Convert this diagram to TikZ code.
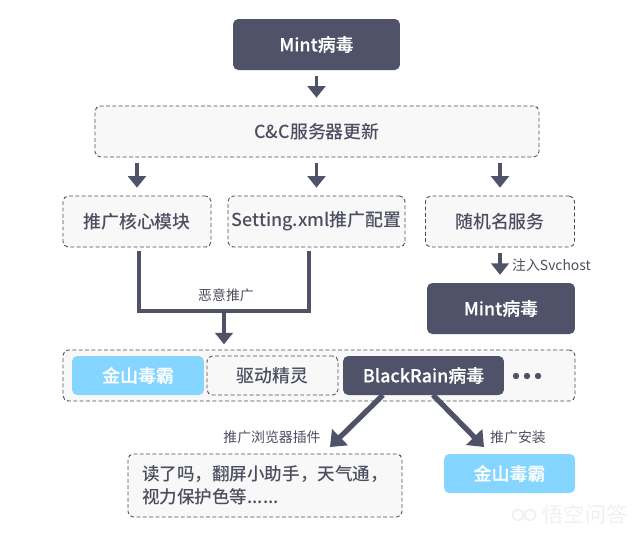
\documentclass[tikz,border=0pt]{standalone}
\usepackage{fontspec}
\usetikzlibrary{arrows.meta}
\setmainfont{Noto Sans CJK SC}
\newfontfamily\mediumfont{Noto Sans CJK SC Medium}
\newfontfamily\heavyfont[FakeBold=0.4]{Noto Sans CJK SC Medium}
\definecolor{darkbox}{HTML}{50526A}
\definecolor{skybox}{HTML}{84D5FF}
\definecolor{palebox}{HTML}{F8F8F9}
\definecolor{labelgray}{HTML}{4C4E60}
\begin{document}
\begin{tikzpicture}[x=0.02cm,y=-0.02cm,
        arrow/.style = {draw=darkbox,line width=2pt,-{Triangle[width=10pt,length=6.5pt]},shorten <=3pt},
        wire/.style = {draw=darkbox,line width=2pt},
        slant/.style = {draw=darkbox,line width=3pt,-{Triangle[width=12.5pt,length=8pt]}},
        box/.style = {rounded corners=3pt,inner sep=0pt},
        darkfill/.style = {box,fill=darkbox,text=white,font=\fontsize{10.2}{13}\selectfont\heavyfont},
        skyfill/.style = {box,fill=skybox,text=white,font=\fontsize{10.2}{13}\selectfont\heavyfont},
        dashbox/.style = {box,draw=black!70,line width=0.5pt,dash pattern=on 2.2pt off 1.4pt,fill=palebox,text=labelgray,font=\fontsize{10.2}{13}\selectfont\mediumfont},
        small/.style = {inner sep=0pt,text=labelgray,font=\fontsize{7.9}{10}\selectfont}]
    \useasboundingbox (0,0) rectangle (640,535);

    \node[darkfill,minimum width=3.34cm,minimum height=1.02cm] (mint) at (316.5,44.5) {Mint病毒};
    \node[dashbox,minimum width=8.88cm,minimum height=1.02cm] (server) at (317,131.5) {C\&C服务器更新};
    \node[dashbox,minimum width=2.96cm,minimum height=1.02cm] (core) at (137,221.5) {推广核心模块};
    \node[dashbox,minimum width=3.54cm,minimum height=1.02cm] (setting) at (316.5,221.5) {Setting.xml推广配置};
    \node[dashbox,minimum width=2.98cm,minimum height=1.02cm] (random) at (500,221.5) {随机名服务};
    \node[darkfill,minimum width=2.96cm,minimum height=1.02cm] (mintb) at (501,308.5) {Mint病毒};

    \node[dashbox,minimum width=10.24cm,minimum height=1.02cm] (row) at (319,375.5) {};
    \node[skyfill,minimum width=2.64cm,minimum height=0.78cm] (kingsoft) at (138,375.5) {金山毒霸};
    \node[dashbox,minimum width=2.62cm,minimum height=0.78cm] (driver) at (272.5,375.5) {驱动精灵};
    \node[darkfill,minimum width=3.22cm,minimum height=0.78cm] (black) at (423.5,375.5) {BlackRain病毒};
    \foreach \dotx in {516,527,538}
        \fill[darkbox] (\dotx,376) circle (3.2);

    \node[dashbox,minimum width=5.48cm,minimum height=1.26cm,align=left,font=\fontsize{10}{13}\selectfont\mediumfont] (plugin) at (265,485.5) {读了吗，翻屏小助手，天气通，\\视力保护色等......};
    \node[skyfill,minimum width=2.62cm,minimum height=0.78cm] (kingsoftb) at (509.5,473.5) {金山毒霸};

    \node[small] (inject) at (551.5,265) {注入Svchost};
    \node[small] (malice) at (226,295) {恶意推广};
    \node[small] (browser) at (272,437) {推广浏览器插件};
    \node[small] (install) at (518,437) {推广安装};
    \node[inner sep=0pt,text=black!6,font=\fontsize{12}{14}\selectfont] (mark) at (585,514) {悟空问答};
    \draw[black!6,line width=1pt] (518,515) circle (5.5) (530,515) circle (5.5);

    \coordinate (coreout) at (139,251);
    \coordinate (settingout) at (309,251);
    \coordinate (join) at (224,311);
    \coordinate (blackleft) at (383,395);
    \coordinate (blackright) at (433,395);
    \coordinate (pluginin) at (330,447);
    \coordinate (kingsoftin) at (484,447);

    \draw[arrow,shorten >=4.5pt] (mint.south) -- (mint.south |- server.north);
    \draw[arrow,shorten >=4.5pt] (core.north |- server.south) -- (core.north);
    \draw[arrow,shorten >=4.5pt] (server.south -| setting.north) -- (setting.north);
    \draw[arrow,shorten >=4.5pt] (random.north |- server.south) -- (random.north);
    \draw[arrow,shorten >=4.5pt] (random.south) -- (random.south |- mintb.north);
    \draw[wire] (coreout) |- (join) -| (settingout);
    \draw[arrow,shorten <=0pt,shorten >=3pt] (join) -- (join |- row.north);
    \draw[slant] (blackleft) -- (pluginin);
    \draw[slant] (blackright) -- (kingsoftin);
\end{tikzpicture}
\end{document}
